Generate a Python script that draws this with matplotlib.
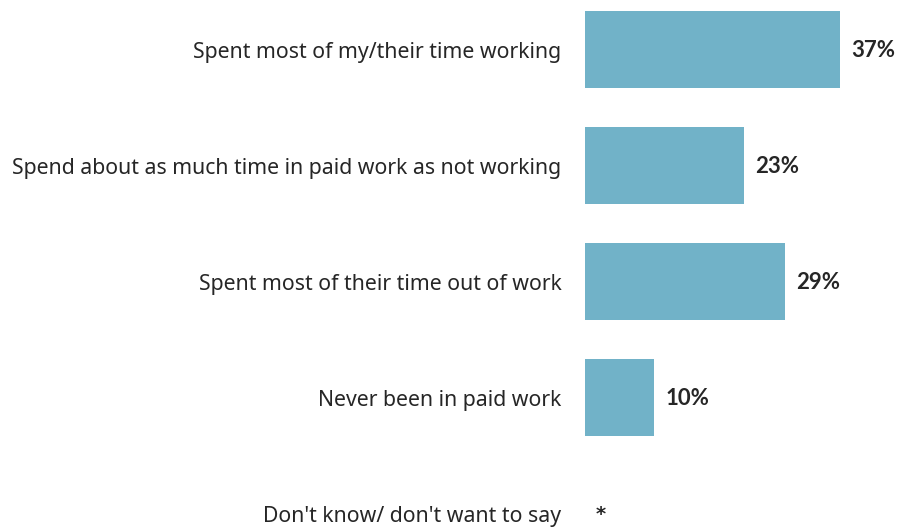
import matplotlib.pyplot as plt

plt.rcParams['font.family'] = ['Noto Sans', 'DejaVu Sans']

categories = [
    "Spent most of my/their time working",
    "Spend about as much time in paid work as not working",
    "Spent most of their time out of work",
    "Never been in paid work",
    "Don't know/ don't want to say",
]
values = [37, 23, 29, 10, 0]
value_labels = ["37%", "23%", "29%", "10%", "*"]

bar_color = "#71b2c8"
text_color = "#262626"

fig = plt.figure(figsize=(8.97, 5.28), dpi=100)
ax = fig.add_axes([585 / 897, 0, 1 - 585 / 897, 1])

pos = list(range(len(categories)))
ax.barh(pos, values, height=0.664, color=bar_color)

# bold value labels just past the end of each bar
for p, v, lab in zip(pos, values, value_labels):
    if lab == "*":
        # Lato's asterisk is tiny, DejaVu's reads better
        ax.annotate(lab, xy=(v, p), xytext=(8, -1), textcoords="offset points",
                    ha="left", va="center", fontsize=14, fontweight="bold",
                    family="DejaVu Sans", color=text_color)
    else:
        ax.annotate(lab, xy=(v, p), xytext=(8, -1), textcoords="offset points",
                    ha="left", va="center", fontsize=16, fontweight="bold",
                    family=["Lato", "DejaVu Sans"], color=text_color)

ax.set_yticks(pos)
ax.set_yticklabels(categories, fontsize=15.3, color=text_color)
ax.tick_params(axis="y", length=0, pad=17)
ax.set_xticks([])
ax.set_xlim(0, 312 / 6.9)
ax.set_ylim(4.125, -0.427)
for s in ax.spines.values():
    s.set_visible(False)

fig.savefig("out.png", dpi=100)
